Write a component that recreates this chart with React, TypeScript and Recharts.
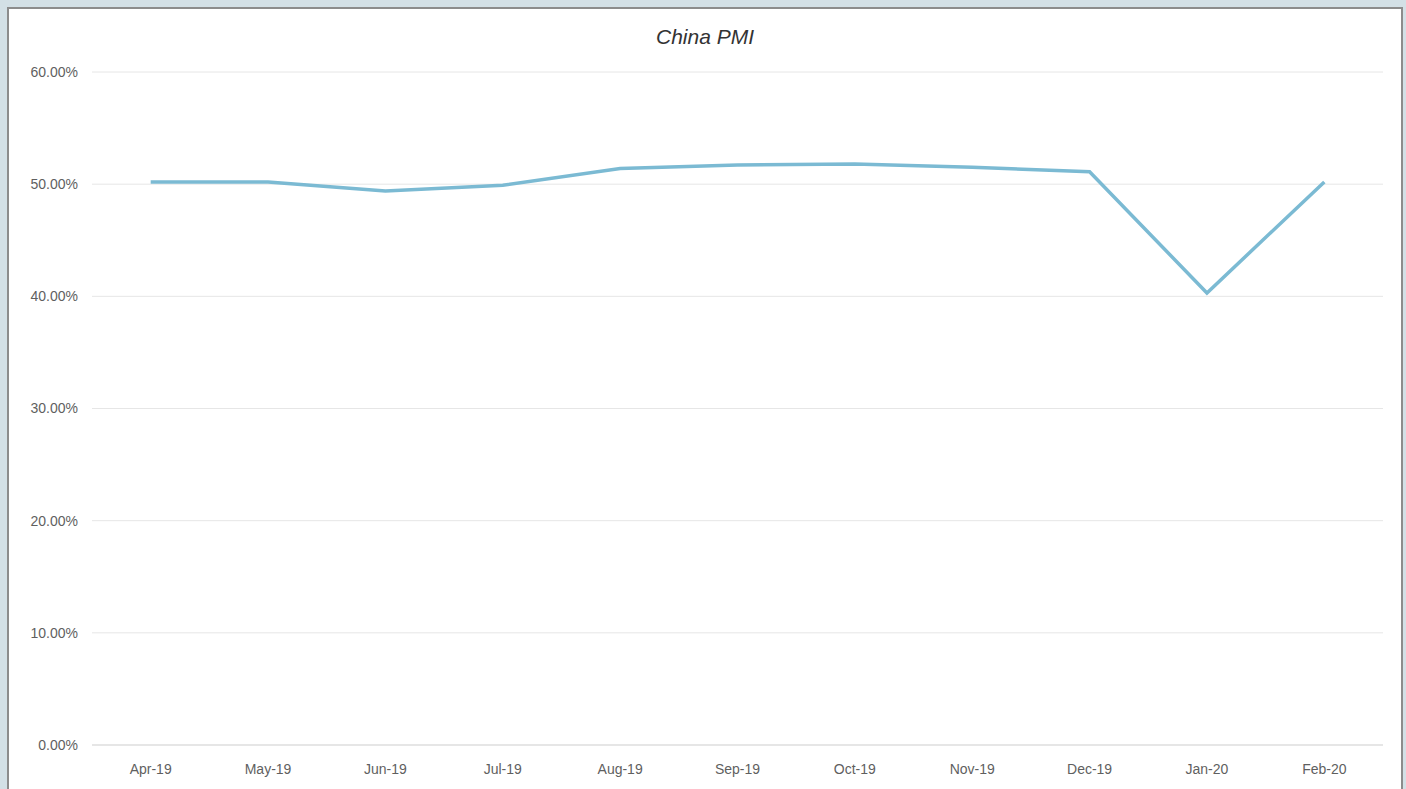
import { LineChart, Line, XAxis, YAxis, CartesianGrid } from 'recharts';

const months = ['Apr-19', 'May-19', 'Jun-19', 'Jul-19', 'Aug-19', 'Sep-19', 'Oct-19', 'Nov-19', 'Dec-19', 'Jan-20', 'Feb-20'];
const pmi = [50.2, 50.2, 49.4, 49.9, 51.4, 51.7, 51.8, 51.5, 51.1, 40.3, 50.2];
const yTicks = [0, 10, 20, 30, 40, 50, 60];

const data = months.map((month, i) => ({ month, pmi: pmi[i] }));

const tickStyle = { fill: '#5f5f5f', fontSize: 14, fontFamily: '"Liberation Sans", Arial, sans-serif' };

// half a category band on each side so points sit mid-band
const HALF_BAND = 1291 / months.length / 2;

export default function App() {
    return (
        <div style={{ position: 'fixed', left: 0, top: 0, width: 1406, height: 789, background: '#d3e0e6', overflow: 'hidden' }}>
            <div
                style={{
                    position: 'absolute',
                    left: 7,
                    top: 7,
                    width: 1392,
                    height: 800,
                    background: '#ffffff',
                    border: '2px solid #8c8c8c',
                }}
            >
                <div
                    style={{
                        position: 'absolute',
                        left: 0,
                        width: 1392,
                        top: 16,
                        textAlign: 'center',
                        fontFamily: '"Liberation Sans", Arial, sans-serif',
                        fontStyle: 'italic',
                        fontSize: 21,
                        color: '#333333',
                    }}
                >
                    China PMI
                </div>
                <LineChart
                    width={1392}
                    height={800}
                    data={data}
                    margin={{ top: 63, right: 18, bottom: 34, left: 0 }}
                >
                    <CartesianGrid vertical={false} stroke="#e6e6e6" />
                    <XAxis
                        dataKey="month"
                        height={30}
                        tick={tickStyle}
                        tickLine={false}
                        tickMargin={13}
                        axisLine={{ stroke: '#d9d9d9' }}
                        interval={0}
                        padding={{ left: HALF_BAND, right: HALF_BAND }}
                    />
                    <YAxis
                        width={83}
                        domain={[0, 60]}
                        ticks={yTicks}
                        tick={tickStyle}
                        tickFormatter={(v: number) => `${v.toFixed(2)}%`}
                        tickLine={false}
                        tickMargin={8}
                        axisLine={false}
                    />
                    <Line
                        type="linear"
                        dataKey="pmi"
                        stroke="#7bbad3"
                        strokeWidth={3.5}
                        dot={false}
                        isAnimationActive={false}
                    />
                </LineChart>
            </div>
        </div>
    );
}
